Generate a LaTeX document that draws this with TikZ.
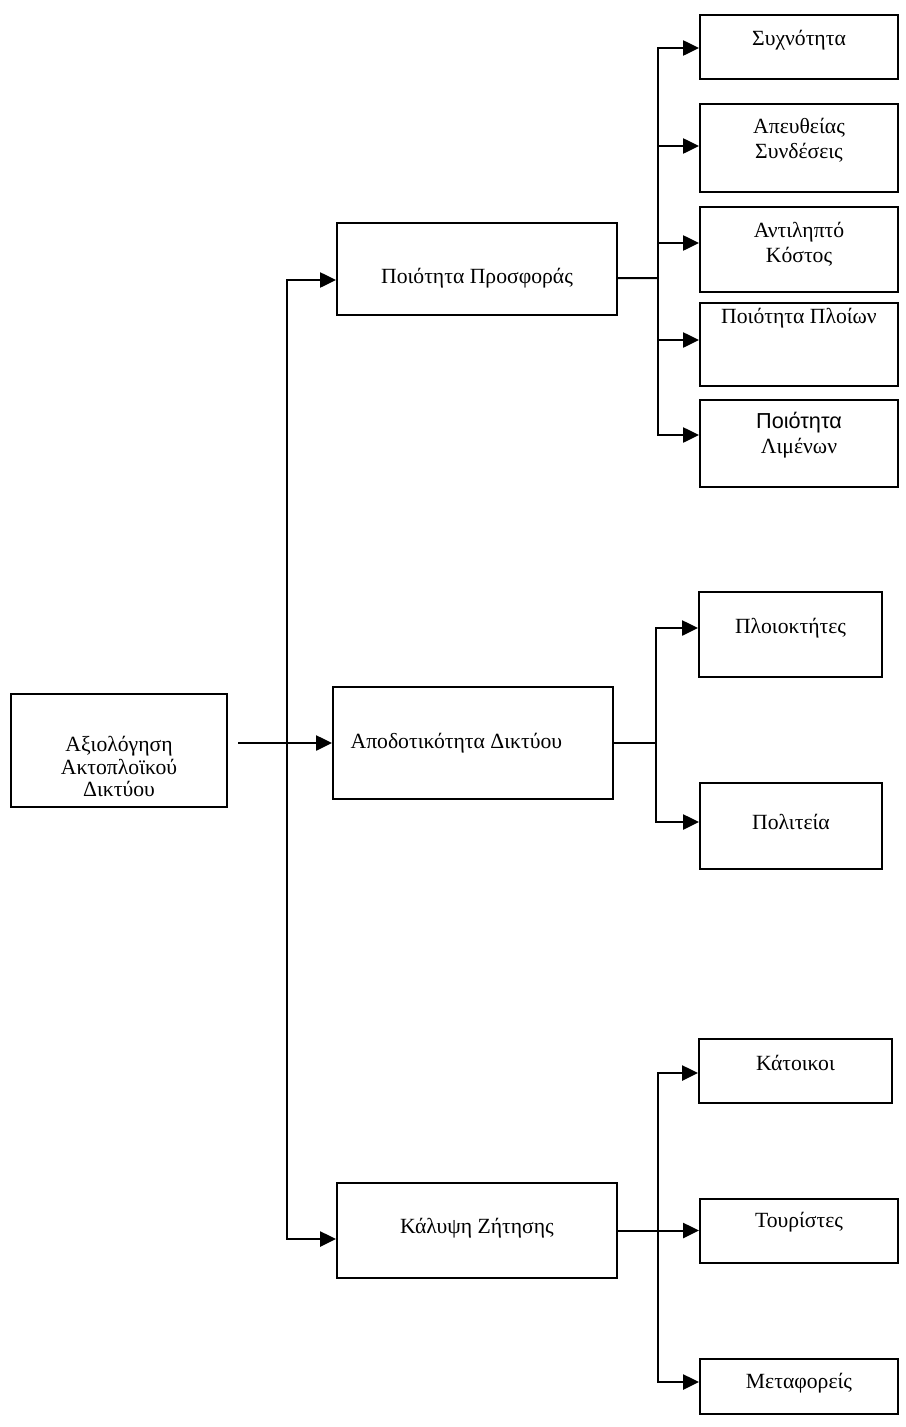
\documentclass[tikz,border=0pt]{standalone}
\usepackage{fontspec}
\setmainfont{Liberation Serif}
\newfontfamily\arialfont{Liberation Sans}
\usetikzlibrary{arrows.meta}

\tikzset{
  box/.style={draw, line width=1.2pt, rectangle, inner sep=0pt},
  lbl/.style={align=center, font=\fontsize{13}{15}\selectfont},
  line/.style={line width=1.2pt},
  arr/.style={line width=1.2pt, -{Triangle[length=9.5pt,width=9pt]}},
}

\begin{document}
\begin{tikzpicture}[x=0.6pt,y=-0.6pt]
\useasboundingbox (0,0) rectangle (905,1427);

% Root of the tree
\node[box, minimum width=129.6pt, minimum height=67.8pt,
  label={[lbl,yshift=-9.6pt,font=\fontsize{13}{13.5}\selectfont]center:Αξιολόγηση\\Ακτοπλοϊκού\\Δικτύου}] (root) at (119,750.5) {};

% Second level
\node[box, minimum width=168pt, minimum height=55.2pt,
  label={[lbl,yshift=-5.4pt]center:Ποιότητα Προσφοράς}] (offer) at (477,269) {};
\node[box, minimum width=168pt, minimum height=67.2pt,
  label={[lbl,xshift=-10pt]center:Αποδοτικότητα Δικτύου}] (eff) at (473,743) {};
\node[box, minimum width=168pt, minimum height=57pt,
  label={[lbl,yshift=1.5pt]center:Κάλυψη Ζήτησης}] (demand) at (477,1230.5) {};

% Third level, offer
\node[box, minimum width=118.8pt, minimum height=38.4pt,
  label={[lbl,yshift=4.2pt]center:Συχνότητα}] (freq) at (799,47) {};
\node[box, minimum width=118.8pt, minimum height=52.8pt,
  label={[lbl,yshift=4.5pt]center:Απευθείας\\Συνδέσεις}] (direct) at (799,148) {};
\node[box, minimum width=118.8pt, minimum height=51pt,
  label={[lbl,yshift=3pt]center:Αντιληπτό\\Κόστος}] (cost) at (799,249.5) {};
\node[box, minimum width=118.8pt, minimum height=49.8pt,
  label={[lbl,yshift=16pt]center:Ποιότητα Πλοίων}] (ships) at (799,344.5) {};
\node[box, minimum width=118.8pt, minimum height=52.2pt,
  label={[lbl,yshift=5.1pt]center:{\arialfont Ποιότητα}\\Λιμένων}] (ports) at (799,443.5) {};

% Third level, efficiency
\node[box, minimum width=109.8pt, minimum height=51pt,
  label={[lbl,yshift=3.9pt]center:Πλοιοκτήτες}] (owners) at (790.5,634.5) {};
\node[box, minimum width=109.2pt, minimum height=51.6pt,
  label={[lbl,yshift=2.4pt]center:Πολιτεία}] (state) at (791,826) {};

% Third level, demand
\node[box, minimum width=115.8pt, minimum height=38.4pt,
  label={[lbl,yshift=4.8pt]center:Κάτοικοι}] (resid) at (795.5,1071) {};
\node[box, minimum width=118.8pt, minimum height=38.4pt,
  label={[lbl,yshift=4.8pt]center:Τουρίστες}] (tour) at (799,1230.5) {};
\node[box, minimum width=118.8pt, minimum height=33pt,
  label={[lbl,yshift=2.1pt]center:Μεταφορείς}] (carr) at (799,1386.5) {};

% Main trunk
\coordinate (split) at (287,743);
\draw[arr, shorten <=6pt] (root.east |- eff.west) -- (eff.west);
\draw[arr] (split) |- ([yshift=-6.6pt]offer.west);
\draw[arr] (split) |- ([yshift=-5.1pt]demand.west);

% Forks to the right
\coordinate (fork1) at (658,278);
\draw[line] ([yshift=-5.4pt]offer.east) -- (fork1);
\foreach \b/\y in {freq/48,direct/146,cost/243,ships/340,ports/435}
  \draw[arr] (fork1) |- (\b.west |- 0,\y);

\coordinate (fork2) at (656,743);
\draw[line] (eff.east) -- (fork2);
\foreach \b/\y in {owners/628,state/822}
  \draw[arr] (fork2) |- (\b.west |- 0,\y);

\coordinate (fork3) at (658,1230.5);
\draw[line] (demand.east) -- (fork3);
\foreach \b/\y in {resid/1073,tour/1230.5,carr/1382}
  \draw[arr] (fork3) |- (\b.west |- 0,\y);
\end{tikzpicture}
\end{document}
